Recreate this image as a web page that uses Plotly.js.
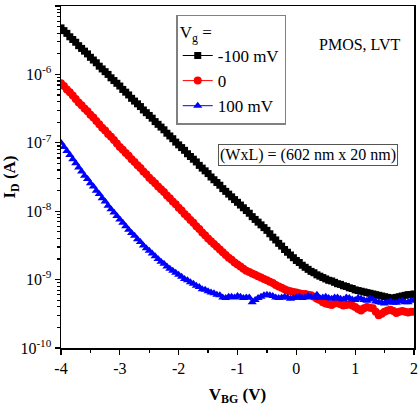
<!DOCTYPE html>
<html>
<head>
<meta charset="utf-8">
<script src="https://cdn.plot.ly/plotly-3.0.1.min.js"></script>
<style>
  html, body { margin: 0; padding: 0; background: #fff; }
  #chart { width: 420px; height: 408px; }
</style>
</head>
<body>
<div id="chart"></div>
<script>
// Back-gate voltage sweep, V (step 0.05 V)
const vbg = [
  -4.00,-3.95,-3.90,-3.85,-3.80,-3.75,-3.70,-3.65,-3.60,-3.55,-3.50,-3.45,-3.40,-3.35,-3.30,-3.25,-3.20,-3.15,-3.10,-3.05,
  -3.00,-2.95,-2.90,-2.85,-2.80,-2.75,-2.70,-2.65,-2.60,-2.55,-2.50,-2.45,-2.40,-2.35,-2.30,-2.25,-2.20,-2.15,-2.10,-2.05,
  -2.00,-1.95,-1.90,-1.85,-1.80,-1.75,-1.70,-1.65,-1.60,-1.55,-1.50,-1.45,-1.40,-1.35,-1.30,-1.25,-1.20,-1.15,-1.10,-1.05,
  -1.00,-0.95,-0.90,-0.85,-0.80,-0.75,-0.70,-0.65,-0.60,-0.55,-0.50,-0.45,-0.40,-0.35,-0.30,-0.25,-0.20,-0.15,-0.10,-0.05,
   0.00, 0.05, 0.10, 0.15, 0.20, 0.25, 0.30, 0.35, 0.40, 0.45, 0.50, 0.55, 0.60, 0.65, 0.70, 0.75, 0.80, 0.85, 0.90, 0.95,
   1.00, 1.05, 1.10, 1.15, 1.20, 1.25, 1.30, 1.35, 1.40, 1.45, 1.50, 1.55, 1.60, 1.65, 1.70, 1.75, 1.80, 1.85, 1.90, 1.95,
   2.00];

// Drain current as log10(I_D / A), one array per front-gate bias
const logIdNeg100 = [
  -5.32,-5.36,-5.40,-5.45,-5.49,-5.53,-5.58,-5.62,-5.66,-5.70,-5.75,-5.79,-5.83,-5.88,-5.92,-5.96,-6.00,-6.05,-6.09,-6.13,
  -6.17,-6.22,-6.26,-6.30,-6.35,-6.39,-6.43,-6.47,-6.52,-6.56,-6.60,-6.64,-6.69,-6.73,-6.77,-6.81,-6.86,-6.90,-6.94,-6.99,
  -7.03,-7.07,-7.11,-7.16,-7.20,-7.24,-7.28,-7.33,-7.37,-7.41,-7.45,-7.50,-7.54,-7.58,-7.62,-7.67,-7.71,-7.75,-7.79,-7.83,
  -7.87,-7.91,-7.95,-7.99,-8.03,-8.08,-8.12,-8.16,-8.20,-8.24,-8.28,-8.33,-8.38,-8.42,-8.47,-8.51,-8.56,-8.60,-8.64,-8.68,
  -8.72,-8.75,-8.79,-8.82,-8.85,-8.88,-8.90,-8.93,-8.95,-8.97,-8.99,-9.01,-9.02,-9.04,-9.06,-9.07,-9.09,-9.10,-9.12,-9.13,
  -9.15,-9.16,-9.17,-9.18,-9.19,-9.20,-9.21,-9.22,-9.23,-9.24,-9.25,-9.26,-9.27,-9.27,-9.26,-9.25,-9.24,-9.23,-9.22,-9.22,
  -9.21];

const logIdZero = [
  -6.13,-6.17,-6.22,-6.26,-6.31,-6.36,-6.41,-6.45,-6.50,-6.54,-6.59,-6.63,-6.68,-6.73,-6.78,-6.82,-6.87,-6.91,-6.96,-7.01,
  -7.06,-7.10,-7.15,-7.19,-7.24,-7.28,-7.33,-7.37,-7.42,-7.46,-7.51,-7.55,-7.59,-7.64,-7.68,-7.72,-7.77,-7.81,-7.86,-7.90,
  -7.95,-7.99,-8.04,-8.08,-8.13,-8.17,-8.22,-8.26,-8.31,-8.35,-8.40,-8.44,-8.48,-8.52,-8.56,-8.60,-8.64,-8.68,-8.71,-8.75,
  -8.78,-8.81,-8.84,-8.87,-8.89,-8.91,-8.93,-8.95,-8.97,-8.99,-9.01,-9.03,-9.05,-9.08,-9.10,-9.12,-9.14,-9.16,-9.17,-9.18,
  -9.19,-9.20,-9.21,-9.21,-9.22,-9.23,-9.25,-9.28,-9.30,-9.33,-9.35,-9.36,-9.37,-9.35,-9.34,-9.36,-9.38,-9.37,-9.36,-9.38,
  -9.40,-9.43,-9.45,-9.42,-9.40,-9.41,-9.42,-9.47,-9.52,-9.50,-9.47,-9.45,-9.44,-9.46,-9.49,-9.47,-9.46,-9.47,-9.48,-9.47,
  -9.47];

const logIdPos100 = [
  -7.00,-7.06,-7.12,-7.18,-7.24,-7.30,-7.36,-7.42,-7.48,-7.53,-7.59,-7.64,-7.70,-7.75,-7.81,-7.86,-7.92,-7.97,-8.02,-8.07,
  -8.12,-8.17,-8.22,-8.27,-8.32,-8.36,-8.41,-8.45,-8.50,-8.54,-8.58,-8.62,-8.66,-8.70,-8.74,-8.77,-8.81,-8.84,-8.87,-8.90,
  -8.93,-8.96,-8.99,-9.01,-9.04,-9.06,-9.09,-9.11,-9.14,-9.15,-9.17,-9.19,-9.20,-9.22,-9.23,-9.26,-9.27,-9.25,-9.25,-9.26,
  -9.24,-9.25,-9.27,-9.26,-9.26,-9.33,-9.30,-9.27,-9.25,-9.23,-9.22,-9.23,-9.24,-9.26,-9.27,-9.26,-9.25,-9.26,-9.28,-9.27,
  -9.26,-9.25,-9.27,-9.26,-9.24,-9.25,-9.26,-9.22,-9.27,-9.26,-9.25,-9.27,-9.28,-9.26,-9.26,-9.28,-9.29,-9.26,-9.27,-9.29,
  -9.30,-9.27,-9.28,-9.30,-9.31,-9.28,-9.29,-9.32,-9.33,-9.34,-9.35,-9.33,-9.32,-9.34,-9.34,-9.32,-9.31,-9.33,-9.33,-9.31,
  -9.30];

const seriesNames = ['-100 mV', '0', '100 mV'];
const xTickVals = [-4, -3, -2, -1, 0, 1, 2];
const xTickText = ['-4', '-3', '-2', '-1', '0', '1', '2'];
const yTickVals = [1e-10, 1e-9, 1e-8, 1e-7, 1e-6, 1e-5];
const yTickText = ['10<sup>-10</sup>', '10<sup>-9</sup>', '10<sup>-8</sup>',
                   '10<sup>-7</sup>', '10<sup>-6</sup>', '10<sup>-5</sup>'];

const FONT = 'Liberation Serif, Times New Roman, serif';
const toAmps = arr => arr.map(v => Math.pow(10, v));

const traces = [
  { x: vbg, y: toAmps(logIdNeg100), name: seriesNames[0], mode: 'lines+markers',
    line: { color: '#000000', width: 1 },
    marker: { symbol: 'square', size: 7, color: '#000000' } },
  { x: vbg, y: toAmps(logIdZero), name: seriesNames[1], mode: 'lines+markers',
    line: { color: '#ff0000', width: 1 },
    marker: { symbol: 'circle', size: 8, color: '#ff0000' } },
  { x: vbg, y: toAmps(logIdPos100), name: seriesNames[2], mode: 'lines+markers',
    line: { color: '#0000ff', width: 1 },
    marker: { symbol: 'triangle-up', size: 8, color: '#0000ff' } }
];

const layout = {
  width: 420, height: 408,
  margin: { l: 60.5, r: 6, t: 6, b: 60 },
  paper_bgcolor: '#ffffff', plot_bgcolor: '#ffffff',
  font: { family: FONT, size: 16, color: '#000' },
  showlegend: true,
  xaxis: {
    range: [-4, 2], tickmode: 'array', tickvals: xTickVals, ticktext: xTickText,
    ticks: 'outside', ticklen: 5, tickwidth: 1.3, tickcolor: '#000',
    minor: { dtick: 0.5, ticks: 'outside', ticklen: 3, tickwidth: 1.2, tickcolor: '#000', showgrid: false },
    showline: true, linecolor: '#000', linewidth: 1.5, mirror: true,
    showgrid: false, zeroline: false,
    tickfont: { family: FONT, size: 16 },
    title: { text: '<b>V<sub>BG</sub> (V)</b>', font: { family: FONT, size: 17 }, standoff: 12 }
  },
  yaxis: {
    type: 'log', range: [-10, -5], tickmode: 'array', tickvals: yTickVals, ticktext: yTickText,
    ticks: 'outside', ticklen: 5, tickwidth: 1.3, tickcolor: '#000',
    minor: { dtick: 'D1', ticks: 'outside', ticklen: 3, tickwidth: 1.2, tickcolor: '#000', showgrid: false },
    showline: true, linecolor: '#000', linewidth: 1.5, mirror: true,
    showgrid: false, zeroline: false,
    tickfont: { family: FONT, size: 16 },
    title: { text: '<b>I<sub>D</sub> (A)</b>', font: { family: FONT, size: 17 }, standoff: 8 }
  },
  legend: {
    x: 0.327, y: 0.975, xanchor: 'left', yanchor: 'top',
    bgcolor: '#ffffff', bordercolor: '#808080', borderwidth: 1.3,
    font: { family: FONT, size: 17 },
    title: { text: 'V<sub>g</sub> =', font: { family: FONT, size: 17 } },
    tracegroupgap: 0
  },
  annotations: [
    { xref: 'paper', yref: 'paper', x: 0.847, y: 0.886, xanchor: 'center', yanchor: 'middle',
      text: 'PMOS, LVT', showarrow: false, font: { family: FONT, size: 16 } },
    { xref: 'paper', yref: 'paper', x: 0.700, y: 0.564, xanchor: 'center', yanchor: 'middle',
      text: '(WxL) = (602 nm x 20 nm)', showarrow: false, font: { family: FONT, size: 16 },
      bordercolor: '#555555', borderwidth: 1, borderpad: 1, bgcolor: '#ffffff' }
  ]
};

Plotly.newPlot('chart', traces, layout, { displayModeBar: false, staticPlot: true });
</script>
</body>
</html>
